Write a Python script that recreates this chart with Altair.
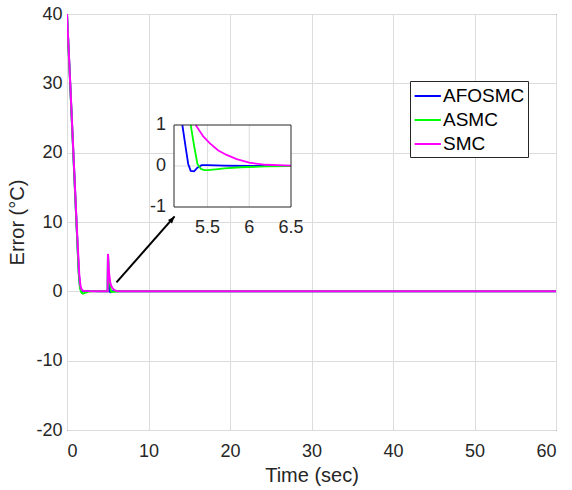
import altair as alt
import pandas as pd

# ---------------- data ----------------
series_names = ["AFOSMC", "ASMC", "SMC"]
series_colors = ["#0000FF", "#00FF00", "#FF00FF"]

afosmc_t = [0, 0.4, 0.8, 1.2, 1.45, 1.6, 1.75, 1.9, 2.1, 2.5, 3.0, 4.0, 4.99, 5.03, 5.08, 5.12, 5.16, 5.2,
            5.24, 5.27, 5.3, 5.34, 5.38, 5.43, 5.5, 5.7, 6.0, 6.5, 7.0, 10, 20, 30, 40, 50, 60]
afosmc_v = [40, 29.8, 19.4, 9.0, 2.6, 0.6, 0.1, 0.02, 0.05, 0.05, 0.03, 0.02, 0.0, 5.2, 3.4, 2.3, 1.5, 1.0,
            0.45, 0.05, -0.12, -0.13, -0.04, 0.02, 0.02, 0.01, 0.0, 0.0, 0.0, 0.0, 0.0, 0.0, 0.0, 0.0, 0.0]

asmc_t = [0, 0.4, 0.8, 1.2, 1.45, 1.6, 1.75, 1.95, 2.2, 2.6, 3.0, 4.0, 4.99, 5.03, 5.1, 5.2, 5.25, 5.3,
          5.34, 5.38, 5.42, 5.46, 5.5, 5.6, 5.7, 5.9, 6.2, 6.5, 7, 10, 20, 30, 40, 50, 60]
asmc_v = [40, 29.6, 19.2, 8.8, 2.5, 0.5, -0.15, -0.32, -0.2, -0.05, 0.0, 0.0, 0.0, 5.3, 2.9, 1.6, 1.25, 1.0,
          0.5, 0.05, -0.07, -0.1, -0.1, -0.08, -0.06, -0.03, -0.01, 0, 0, 0, 0, 0, 0, 0, 0]

smc_t = [0, 0.4, 0.8, 1.2, 1.5, 1.65, 1.8, 2.0, 2.5, 3, 4, 4.99, 5.03, 5.1, 5.2, 5.3, 5.36, 5.45, 5.53,
         5.63, 5.73, 5.85, 6.0, 6.2, 6.5, 7, 10, 20, 30, 40, 50, 60]
smc_v = [40, 29.9, 19.6, 9.3, 2.5, 0.8, 0.25, 0.08, 0.03, 0.0, 0.0, 0.0, 5.4, 3.5, 2.2, 1.35, 1.0, 0.72, 0.55,
         0.38, 0.27, 0.17, 0.08, 0.03, 0.01, 0, 0, 0, 0, 0, 0, 0]

x_ticks = [0, 10, 20, 30, 40, 50, 60]
y_ticks = [-20, -10, 0, 10, 20, 30, 40]
inset_x_ticks = [5.5, 6, 6.5]
inset_y_ticks = [-1, 0, 1]
inset_x_grid = [5.5, 6.0]
inset_y_grid = [0.0]
inset_x_domain = [5.1, 6.5]
inset_y_domain = [-1, 1]

arrow_x = [6.07, 13.2]
arrow_y = [1.3, 10.8]

# ---------------- tables ----------------
rows = []
for name, ts, vs in [("AFOSMC", afosmc_t, afosmc_v), ("ASMC", asmc_t, asmc_v), ("SMC", smc_t, smc_v)]:
    for i, (t, v) in enumerate(zip(ts, vs)):
        rows.append({"series": name, "t": t, "e": v, "i": i})
df = pd.DataFrame(rows)

arrow_df = pd.DataFrame({"x": arrow_x, "y": arrow_y})
tip_df = pd.DataFrame({"x": [arrow_x[1]], "y": [arrow_y[1]]})

FONT = "Liberation Sans"
TXT = "#262626"
W, H = 489, 416
# inset placement inside the plot area (pixels)
IX0, IX1 = 107, 224
IY0, IY1 = 193, 111

color_scale = alt.Scale(domain=series_names, range=series_colors)

# ---------------- main ----------------
main_lines = alt.Chart(df).mark_line(strokeWidth=2, clip=True).encode(
    x=alt.X("t:Q", scale=alt.Scale(domain=[0, 60], nice=False),
            axis=alt.Axis(values=x_ticks, title="Time (sec)", grid=True, ticks=False, domain=False,
                          labelPadding=12, titlePadding=5, labelFontSize=18, titleFontSize=20,
                          labelColor=TXT, titleColor=TXT, titleFontWeight="normal",
                          labelExpr="'' + datum.value",
                          gridColor="#dcdcdc", labelFont=FONT, titleFont=FONT)),
    y=alt.Y("e:Q", scale=alt.Scale(domain=[-20, 40], nice=False),
            axis=alt.Axis(values=y_ticks, title="Error (°C)", grid=True, ticks=False, domain=False,
                          labelPadding=5, titlePadding=8, labelFontSize=18, titleFontSize=20,
                          labelColor=TXT, titleColor=TXT, titleFontWeight="normal",
                          labelExpr="'' + datum.value",
                          gridColor="#dcdcdc", labelFont=FONT, titleFont=FONT)),
    color=alt.Color("series:N", scale=color_scale, sort=series_names,
                    legend=alt.Legend(title=None, orient="none", legendX=343, legendY=67,
                                      symbolType="M-0.95,0H1.45", symbolStrokeWidth=2, symbolSize=480,
                                      labelFontSize=19, labelFont=FONT, labelColor="black",
                                      strokeColor="#262626", fillColor="white", padding=3,
                                      rowPadding=2, labelOffset=6)),
    order=alt.Order("i:Q"),
    detail="series:N",
)

arrow_line = alt.Chart(arrow_df).mark_line(color="black", strokeWidth=2).encode(
    x="x:Q", y="y:Q"
)
arrow_head = alt.Chart(tip_df).mark_point(
    shape="M0,0L-0.7,1.8L0.7,1.8Z", filled=True, color="black", opacity=1, size=60, angle=41
).encode(x="x:Q", y="y:Q")

main = alt.layer(main_lines, arrow_line, arrow_head)

# ---------------- inset ----------------
xs_in = alt.Scale(domain=inset_x_domain, range=[IX0, IX1], nice=False, zero=False)
ys_in = alt.Scale(domain=inset_y_domain, range=[IY0, IY1], nice=False, zero=False)

box_df = pd.DataFrame({"x": [inset_x_domain[0]], "x2": [inset_x_domain[1]],
                       "y": [inset_y_domain[0]], "y2": [inset_y_domain[1]]})
inset_box = alt.Chart(box_df).mark_rect(fill="white").encode(
    x=alt.X("x:Q", scale=xs_in, axis=None), x2="x2:Q",
    y=alt.Y("y:Q", scale=ys_in, axis=None), y2="y2:Q",
)
inset_vgrid = alt.Chart(pd.DataFrame({"x": inset_x_grid})).mark_rule(color="#dcdcdc", strokeWidth=1).encode(
    x=alt.X("x:Q", scale=xs_in, axis=None),
    y=alt.Y(datum=inset_y_domain[0], scale=ys_in, axis=None),
    y2=alt.Y2(datum=inset_y_domain[1]),
)
inset_hgrid = alt.Chart(pd.DataFrame({"y": inset_y_grid})).mark_rule(color="#dcdcdc", strokeWidth=1).encode(
    y=alt.Y("y:Q", scale=ys_in, axis=None),
    x=alt.X(datum=inset_x_domain[0], scale=xs_in, axis=None),
    x2=alt.X2(datum=inset_x_domain[1]),
)
inset_lines = alt.Chart(df).transform_filter(
    (alt.datum.t >= 5.0) & (alt.datum.t <= 6.5) & (alt.datum.e <= 1.0)
).mark_line(strokeWidth=1.8).encode(
    x=alt.X("t:Q", scale=xs_in, axis=None),
    y=alt.Y("e:Q", scale=ys_in, axis=None),
    color=alt.Color("series:N", scale=color_scale, sort=series_names, legend=None),
    order=alt.Order("i:Q"),
    detail="series:N",
)
inset_frame = alt.Chart(box_df).mark_rect(fill=None, stroke="#262626", strokeWidth=1).encode(
    x=alt.X("x:Q", scale=xs_in, axis=None), x2="x2:Q",
    y=alt.Y("y:Q", scale=ys_in, axis=None), y2="y2:Q",
)
inset_xlabels = alt.Chart(pd.DataFrame({"v": inset_x_ticks})).mark_text(
    fontSize=18, font=FONT, color=TXT, baseline="middle", align="center", dy=21
).encode(
    x=alt.X("v:Q", scale=xs_in, axis=None),
    y=alt.Y(datum=inset_y_domain[0], scale=ys_in, axis=None),
    text=alt.Text("v:Q", format="~g"),
)
inset_ylabels = alt.Chart(pd.DataFrame({"v": inset_y_ticks})).mark_text(
    fontSize=18, font=FONT, color=TXT, baseline="middle", align="right", dx=-8
).encode(
    y=alt.Y("v:Q", scale=ys_in, axis=None),
    x=alt.X(datum=inset_x_domain[0], scale=xs_in, axis=None),
    text=alt.Text("label:N"),
).transform_calculate(label="'' + datum.v")

inset = alt.layer(inset_box, inset_vgrid, inset_hgrid, inset_lines, inset_frame,
                  inset_xlabels, inset_ylabels)

chart = alt.layer(main, inset).resolve_scale(x="independent", y="independent").properties(
    width=W, height=H,
    autosize=alt.AutoSizeParams(type="none"),
    padding={"left": 67, "top": 14, "right": 16, "bottom": 60},
    background="white",
).configure_view(stroke="#262626", strokeWidth=1)

chart.save("out.html", embed_options={"renderer": "svg", "actions": False})
